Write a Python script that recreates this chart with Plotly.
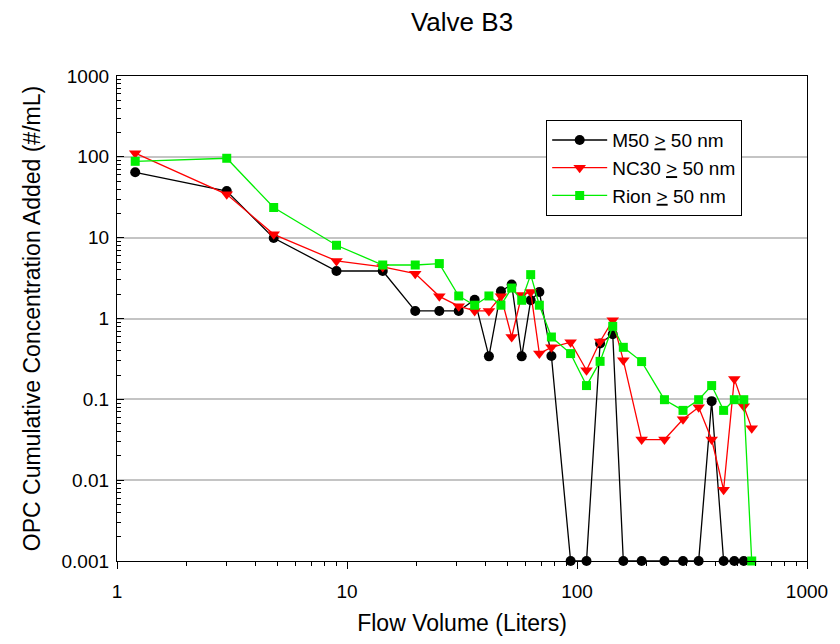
import plotly.graph_objects as go

# Flow volume (Liters) shared by all series
flow = [1.2, 3.0, 4.8, 9.0, 14.3, 19.8, 25.2, 30.6, 35.9, 41.4, 46.7, 52.0, 57.5,
        62.9, 68.6, 77.4, 93.8, 110, 126, 143, 159, 191, 240, 289, 338, 385,
        434, 483, 531, 575]

m50 = [64.4, 37.8, 9.9, 3.87, 3.87, 1.24, 1.24, 1.24, 1.71, 0.34, 2.17, 2.63, 0.34,
       1.68, 2.13, 0.344, 0.001, 0.001, 0.49, 0.637, 0.001, 0.001, 0.001, 0.001,
       0.001, 0.095, 0.001, 0.001, 0.001, None]

nc30 = [111, 34.4, 11.0, 5.15, 4.34, 3.59, 1.88, 1.42, 1.24, 1.24, 1.88, 0.59, 1.95,
        2.13, 0.368, 0.44, 0.51, 0.229, 0.52, 0.95, 0.304, 0.0318, 0.0318, 0.0566,
        0.080, 0.0318, 0.0076, 0.179, 0.082, 0.044]

rion = [88, 96, 23.6, 8.05, 4.59, 4.59, 4.78, 1.9, 1.46, 1.9, 1.46, 2.38, 1.68,
        3.49, 1.46, 0.59, 0.368, 0.148, 0.295, 0.80, 0.44, 0.293, 0.099, 0.073,
        0.099, 0.148, 0.073, 0.099, 0.099, 0.001]

names = ["M50 <u>></u> 50 nm", "NC30 <u>></u> 50 nm", "Rion <u>></u> 50 nm"]

x_tickvals = [1, 10, 100, 1000]
x_ticktext = ["1", "10", "100", "1000"]
y_tickvals = [0.001, 0.01, 0.1, 1, 10, 100, 1000]
y_ticktext = ["0.001", "0.01", "0.1", "1", "10", "100", "1000"]

x_minor = [m * 10 ** e for e in range(0, 3) for m in range(2, 10)]
y_minor = [m * 10 ** e for e in range(-3, 3) for m in range(2, 10)]

fig = go.Figure()
fig.add_trace(go.Scatter(x=flow, y=m50, name=names[0], mode="lines+markers",
                         line=dict(color="black", width=1.3),
                         marker=dict(symbol="circle", size=10, color="black"),
                         cliponaxis=False, connectgaps=False))
fig.add_trace(go.Scatter(x=flow, y=nc30, name=names[1], mode="lines+markers",
                         line=dict(color="#ff0000", width=1.3),
                         marker=dict(symbol="triangle-down", size=11, color="#ff0000"),
                         cliponaxis=False))
fig.add_trace(go.Scatter(x=flow, y=rion, name=names[2], mode="lines+markers",
                         line=dict(color="#00ee00", width=1.3),
                         marker=dict(symbol="square", size=9, color="#00ee00"),
                         cliponaxis=False))

font_family = "Liberation Sans, Arial, sans-serif"

fig.update_layout(
    width=824, height=628,
    margin=dict(l=109, r=25, t=68, b=75, autoexpand=False),
    paper_bgcolor="white", plot_bgcolor="white",
    font=dict(family=font_family, color="black", size=18),
    title=dict(text="Valve B3", x=0.551, xanchor="center", y=0.978, yanchor="middle",
               font=dict(size=26, family=font_family, color="black")),
    showlegend=True,
    legend=dict(x=0.622, y=0.909, xanchor="left", yanchor="top",
                bgcolor="white", bordercolor="black", borderwidth=1,
                font=dict(size=19, family=font_family), tracegroupgap=0,
                itemwidth=55, entrywidth=183),
    xaxis=dict(type="log", range=[0, 3], showgrid=False, zeroline=False, automargin=False,
               showline=True, linecolor="black", linewidth=1.3, mirror=True,
               tickmode="array", tickvals=x_tickvals, ticktext=x_ticktext,
               ticks="outside", ticklen=7, tickcolor="black", tickwidth=1.3,
               minor=dict(tickvals=x_minor, ticks="outside", ticklen=4,
                          tickcolor="black", tickwidth=1.2, showgrid=False),
               tickfont=dict(size=19), ticklabelstandoff=6,
               title=dict(text="Flow Volume (Liters)", font=dict(size=23), standoff=26)),
    yaxis=dict(type="log", range=[-3, 3], showgrid=True, gridcolor="#c4c4c4", gridwidth=1.5,
               zeroline=False, automargin=False,
               showline=True, linecolor="black", linewidth=1.3, mirror=True,
               tickmode="array", tickvals=y_tickvals, ticktext=y_ticktext,
               ticks="inside", ticklen=7, tickcolor="black", tickwidth=1.3,
               minor=dict(tickvals=y_minor, ticks="inside", ticklen=4,
                          tickcolor="black", tickwidth=1.2, showgrid=False),
               tickfont=dict(size=19), ticklabelstandoff=3,
               title=dict(text="OPC Cumulative Concentration Added (#/mL)",
                          font=dict(size=23), standoff=14)),
)

fig.write_html("out.html")
